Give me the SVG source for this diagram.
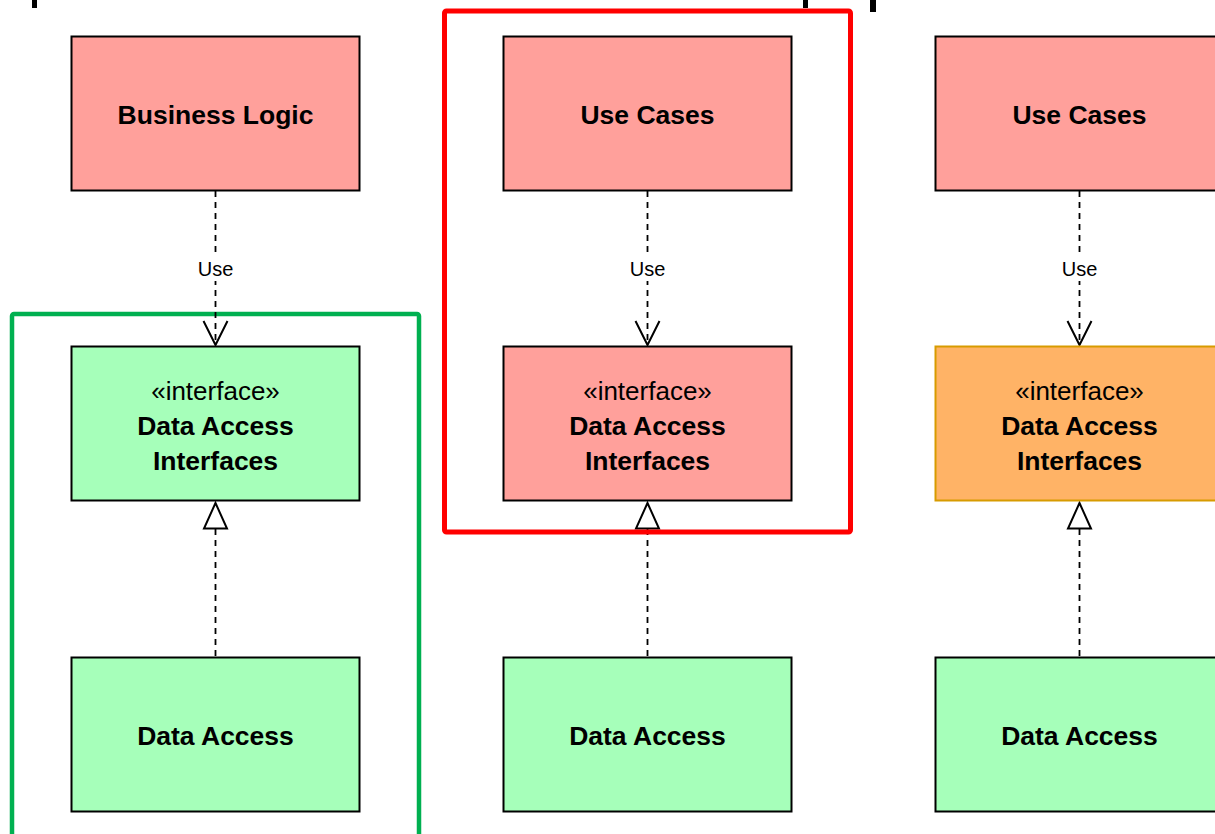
<svg xmlns="http://www.w3.org/2000/svg" width="1215" height="834" viewBox="0 0 1215 834">
<style>
.box{stroke:#000;stroke-width:2}
.red{fill:#FFA09B}
.green{fill:#A6FFBA}
.orange{fill:#FFB366;stroke:#D79B00;stroke-width:2}
.t{font-family:"Liberation Sans",Arial,sans-serif;text-anchor:middle;fill:#000}
.b{font-weight:bold;font-size:26.5px}
.s{font-size:26px}
.lbl{font-size:20px}
.dash{stroke:#000;stroke-width:1.8;stroke-dasharray:6 5;fill:none}
.tip{stroke:#000;stroke-width:2;fill:none}
.tri{stroke:#000;stroke-width:2;fill:#fff}
</style>
<rect x="0" y="0" width="1215" height="834" fill="#fff"/>
<g id="ticks">
<rect x="32" y="0" width="5" height="8" fill="#000"/>
<rect x="803" y="0" width="5" height="8" fill="#000"/>
<rect x="870" y="0" width="6" height="12" fill="#000"/>
</g>
<g id="greenContainer"><rect x="12" y="314" width="407" height="530" rx="2" fill="none" stroke="#00B050" stroke-width="4.5"/></g>
<g id="connectors">
<line class="dash" x1="215.5" y1="191" x2="215.5" y2="344"/>
<rect x="195" y="257" width="41" height="24" fill="#fff"/>
<text class="t lbl" x="215.5" y="276">Use</text>
<polyline class="tip" points="203.5,321 215.5,345 227.5,321"/>
<line class="dash" x1="215.5" y1="529" x2="215.5" y2="657"/>
<polygon class="tri" points="215.5,503 204,528.5 227,528.5"/>

<line class="dash" x1="647.5" y1="191" x2="647.5" y2="344"/>
<rect x="627" y="257" width="41" height="24" fill="#fff"/>
<text class="t lbl" x="647.5" y="276">Use</text>
<polyline class="tip" points="635.5,321 647.5,345 659.5,321"/>
<line class="dash" x1="647.5" y1="529" x2="647.5" y2="657"/>
<polygon class="tri" points="647.5,503 636,528.5 659,528.5"/>

<line class="dash" x1="1079.5" y1="191" x2="1079.5" y2="344"/>
<rect x="1059" y="257" width="41" height="24" fill="#fff"/>
<text class="t lbl" x="1079.5" y="276">Use</text>
<polyline class="tip" points="1067.5,321 1079.5,345 1091.5,321"/>
<line class="dash" x1="1079.5" y1="529" x2="1079.5" y2="657"/>
<polygon class="tri" points="1079.5,503 1068,528.5 1091,528.5"/>
</g>
<g id="businessLogic"><rect class="box red" x="71.5" y="36.5" width="288" height="154"/><text class="t b" x="215.5" y="124">Business Logic</text></g>
<g id="dai1"><rect class="box green" x="71.5" y="346.5" width="288" height="154"/><text class="t s" x="215.5" y="400">«interface»</text><text class="t b" x="215.5" y="435">Data Access</text><text class="t b" x="215.5" y="470">Interfaces</text></g>
<g id="da1"><rect class="box green" x="71.5" y="657.5" width="288" height="154"/><text class="t b" x="215.5" y="745">Data Access</text></g>

<g id="useCases2"><rect class="box red" x="503.5" y="36.5" width="288" height="154"/><text class="t b" x="647.5" y="124">Use Cases</text></g>
<g id="dai2"><rect class="box red" x="503.5" y="346.5" width="288" height="154"/><text class="t s" x="647.5" y="400">«interface»</text><text class="t b" x="647.5" y="435">Data Access</text><text class="t b" x="647.5" y="470">Interfaces</text></g>
<g id="da2"><rect class="box green" x="503.5" y="657.5" width="288" height="154"/><text class="t b" x="647.5" y="745">Data Access</text></g>

<g id="useCases3"><rect class="box red" x="935.5" y="36.5" width="288" height="154"/><text class="t b" x="1079.5" y="124">Use Cases</text></g>
<g id="dai3"><rect class="orange" x="935.5" y="346.5" width="288" height="154"/><text class="t s" x="1079.5" y="400">«interface»</text><text class="t b" x="1079.5" y="435">Data Access</text><text class="t b" x="1079.5" y="470">Interfaces</text></g>
<g id="da3"><rect class="box green" x="935.5" y="657.5" width="288" height="154"/><text class="t b" x="1079.5" y="745">Data Access</text></g>

<g id="redContainer"><rect x="444.5" y="11" width="406" height="521" rx="2" fill="none" stroke="#FF0000" stroke-width="5"/></g>
</svg>
